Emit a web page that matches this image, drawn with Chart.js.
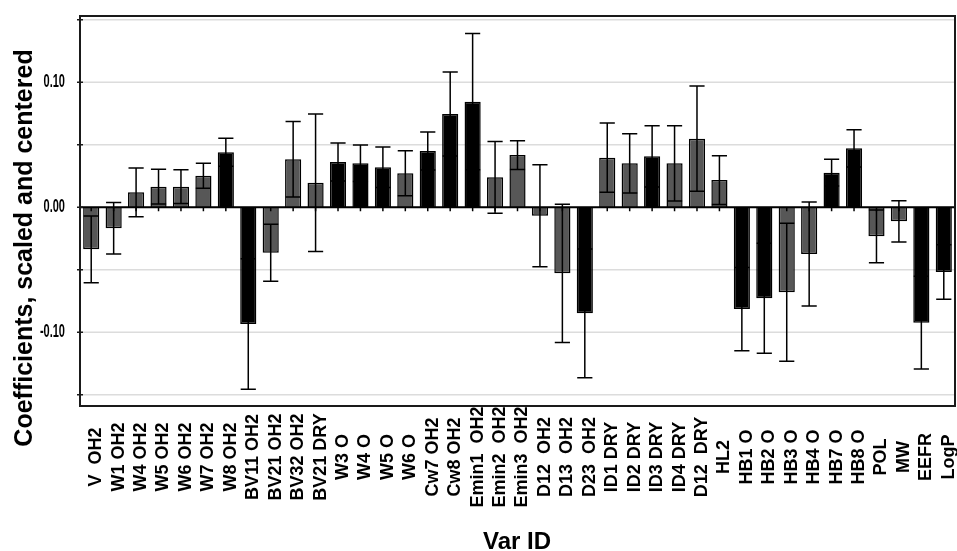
<!DOCTYPE html>
<html>
<head>
<meta charset="utf-8">
<script src="https://cdn.jsdelivr.net/npm/chart.js@4.4.1/dist/chart.umd.min.js"></script>
<style>
  body { margin: 0; background: #fff; }
  canvas { display: block; }
</style>
</head>
<body>
<canvas id="coefChart" width="957" height="551"></canvas>
<script>
const varIds = ['V  OH2', 'W1 OH2', 'W4 OH2', 'W5 OH2', 'W6 OH2', 'W7 OH2', 'W8 OH2',
    'BV11 OH2', 'BV21 OH2', 'BV32 OH2', 'BV21 DRY', 'W3 O', 'W4 O', 'W5 O', 'W6 O',
    'Cw7 OH2', 'Cw8 OH2', 'Emin1  OH2', 'Emin2  OH2', 'Emin3  OH2', 'D12  OH2', 'D13  OH2',
    'D23  OH2', 'ID1 DRY', 'ID2 DRY', 'ID3 DRY', 'ID4 DRY', 'D12  DRY', 'HL2',
    'HB1 O', 'HB2 O', 'HB3 O', 'HB4 O', 'HB7 O', 'HB8 O', 'POL', 'MW', 'EEFR', 'LogP'];

const coefs = [-0.0336, -0.0168, 0.0120, 0.0165, 0.0165, 0.0253, 0.0440,
    -0.0934, -0.0363, 0.0384, 0.0197, 0.0362, 0.0352, 0.0320, 0.0272,
    0.0450, 0.0746, 0.0845, 0.0240, 0.0418, -0.0067, -0.0528,
    -0.0848, 0.0397, 0.0352, 0.0408, 0.0352, 0.0549, 0.0218,
    -0.0814, -0.0728, -0.0680, -0.0374, 0.0277, 0.0472, -0.0232, -0.0112, -0.0923, -0.0518];

// half width of the confidence interval
const errs = [0.0267, 0.0206, 0.0195, 0.0139, 0.0135, 0.0100, 0.0112,
    0.0522, 0.0228, 0.0302, 0.0550, 0.0152, 0.0146, 0.0162, 0.0180,
    0.0152, 0.0336, 0.0545, 0.0287, 0.0115, 0.0408, 0.0553,
    0.0515, 0.0277, 0.0237, 0.0245, 0.0301, 0.0421, 0.0195,
    0.0333, 0.0440, 0.0552, 0.0416, 0.0107, 0.0149, 0.0211, 0.0165, 0.0371, 0.0218];

// 1 = black bar, 0 = grey bar
const signif = [0, 0, 0, 0, 0, 0, 1, 1, 0, 0, 0, 1, 1, 1, 0, 1, 1, 1, 0, 0, 0, 0,
    1, 0, 0, 1, 0, 0, 0, 1, 1, 0, 0, 1, 1, 0, 0, 1, 1];

const yTickValues = [-0.15, -0.10, -0.05, 0, 0.05, 0.10, 0.15];
const yTickLabels = ['', '-0.10', '', '0.00', '', '0.10', ''];
const yTitle = 'Coefficients, scaled and centered';
const xTitle = 'Var ID';

const fontName = '"Liberation Sans", Arial, sans-serif';

const decor = {
    id: 'decor',
    beforeDatasetsDraw(chart) {
        const { ctx, chartArea: a, scales: { y } } = chart;
        ctx.save();
        ctx.strokeStyle = '#dcdcdc';
        ctx.lineWidth = 1.5;
        yTickValues.forEach(v => {
            const py = y.getPixelForValue(v);
            ctx.beginPath();
            ctx.moveTo(a.left, py);
            ctx.lineTo(a.right, py);
            ctx.stroke();
        });
        ctx.restore();
    },
    afterDatasetsDraw(chart) {
        const { ctx, chartArea: a, scales: { x, y } } = chart;
        const meta = chart.getDatasetMeta(0);
        const y0 = y.getPixelForValue(0);
        ctx.save();
        ctx.strokeStyle = '#000';

        // error bars
        ctx.lineWidth = 1.5;
        coefs.forEach((c, i) => {
            const px = x.getPixelForValue(i);
            const hi = y.getPixelForValue(c + errs[i]);
            const lo = y.getPixelForValue(c - errs[i]);
            const half = meta.data[i].width * 0.47;
            ctx.beginPath();
            ctx.moveTo(px, hi); ctx.lineTo(px, lo);
            ctx.moveTo(px - half, hi); ctx.lineTo(px + half, hi);
            ctx.moveTo(px - half, lo); ctx.lineTo(px + half, lo);
            ctx.stroke();
        });

        // zero line and its ticks
        ctx.lineWidth = 2;
        ctx.beginPath();
        ctx.moveTo(a.left, y0); ctx.lineTo(a.right, y0);
        ctx.stroke();
        ctx.lineWidth = 1.5;
        varIds.forEach((_, i) => {
            const px = x.getPixelForValue(i);
            ctx.beginPath();
            ctx.moveTo(px, y0); ctx.lineTo(px, y0 + 4);
            ctx.stroke();
        });

        // frame
        ctx.strokeStyle = '#1a1a1a';
        ctx.lineWidth = 2;
        ctx.strokeRect(a.left, a.top, a.right - a.left, a.bottom - a.top);

        // y ticks and labels
        ctx.fillStyle = '#000';
        ctx.lineWidth = 1.5;
        yTickValues.forEach((v, k) => {
            const py = y.getPixelForValue(v);
            ctx.beginPath();
            ctx.moveTo(a.left - 3, py); ctx.lineTo(a.left + 3, py);
            ctx.stroke();
            if (yTickLabels[k]) {
                ctx.save();
                ctx.translate(a.left - 15, py);
                ctx.scale(0.58, 1);
                ctx.font = 'bold 19px ' + fontName;
                ctx.textAlign = 'right';
                ctx.textBaseline = 'middle';
                ctx.fillText(yTickLabels[k], 0, 0);
                ctx.restore();
            }
        });

        // category labels, rotated
        ctx.font = 'bold 18px ' + fontName;
        ctx.textAlign = 'center';
        ctx.textBaseline = 'middle';
        varIds.forEach((lab, i) => {
            const px = x.getPixelForValue(i);
            ctx.save();
            ctx.translate(px + 5, 457);
            ctx.rotate(-Math.PI / 2);
            ctx.fillText(lab, 0, 0);
            ctx.restore();
        });

        // axis titles
        ctx.font = 'bold 24px ' + fontName;
        ctx.textBaseline = 'alphabetic';
        ctx.fillText(xTitle, 517, 549);

        ctx.save();
        ctx.translate(32, 248);
        ctx.rotate(-Math.PI / 2);
        ctx.font = 'bold 25px ' + fontName;
        ctx.fillText(yTitle, 0, 0);
        ctx.restore();

        ctx.restore();
    }
};

const ctx = document.getElementById('coefChart').getContext('2d');
const chart = new Chart(ctx, {
    type: 'bar',
    data: {
        labels: varIds,
        datasets: [{
            data: coefs,
            backgroundColor: signif.map(s => s ? '#000000' : '#575757'),
            borderColor: '#000000',
            borderWidth: 1.5,
            barPercentage: 0.72,
            categoryPercentage: 1
        }]
    },
    options: {
        responsive: false,
        animation: false,
        layout: { padding: { left: 80, top: 16, right: 2, bottom: 145 } },
        plugins: {
            legend: { display: false },
            tooltip: { enabled: false }
        },
        scales: {
            x: { display: false },
            y: { display: false, min: -0.159, max: 0.153 }
        }
    },
    plugins: [decor]
});
</script>
</body>
</html>
